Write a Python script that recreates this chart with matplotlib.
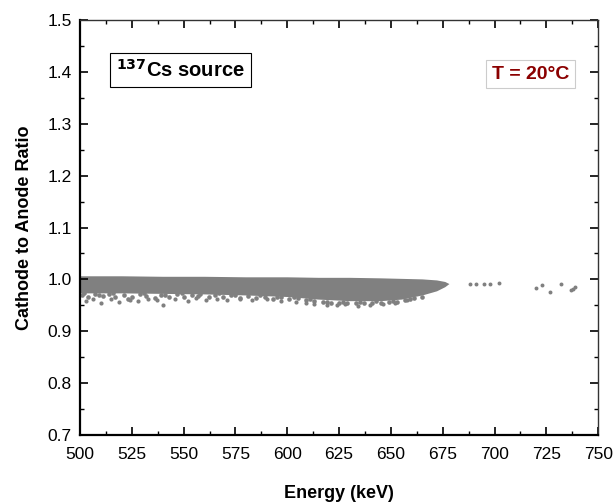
import matplotlib
matplotlib.use("Agg")
import matplotlib.pyplot as plt
from matplotlib.ticker import MultipleLocator

plt.rcParams["font.family"] = ["Liberation Sans", "DejaVu Sans"]

# dense band envelope (energy in keV, ratio)
band_e = [500, 520, 540, 560, 580, 600, 615, 630, 645, 655, 665, 672, 676, 678]
band_top = [1.007, 1.007, 1.006, 1.006, 1.005, 1.005, 1.004, 1.004, 1.003, 1.002, 1.001, 0.999, 0.996, 0.992]
band_low = [0.974, 0.974, 0.973, 0.972, 0.970, 0.967, 0.962, 0.959, 0.959, 0.962, 0.970, 0.978, 0.986, 0.992]

# scattered points along the lower edge of the band
edge_e = [501, 504, 507, 511, 514, 517, 521, 525, 529, 532, 536, 539, 543, 547,
          550, 554, 558, 562, 565, 569, 573, 577, 581, 585, 589, 593, 597, 601,
          605, 609, 613, 617, 621, 625, 629, 633, 637, 641, 645, 649, 653, 657,
          661, 665,
          502, 509, 516, 523, 531, 541, 549, 557, 567, 575, 587, 595, 603, 611,
          619, 627, 635, 643, 651, 659]
edge_r = [0.970, 0.966, 0.971, 0.968, 0.972, 0.967, 0.970, 0.966, 0.971, 0.968,
          0.965, 0.970, 0.967, 0.971, 0.966, 0.969, 0.972, 0.966, 0.970, 0.967,
          0.969, 0.965, 0.968, 0.964, 0.967, 0.963, 0.966, 0.962, 0.965, 0.960,
          0.958, 0.956, 0.955, 0.955, 0.954, 0.955, 0.954, 0.955, 0.955, 0.956,
          0.957, 0.960, 0.964, 0.967,
          0.973, 0.969, 0.974, 0.963, 0.973, 0.969, 0.974, 0.968, 0.973, 0.970,
          0.969, 0.966, 0.966, 0.962, 0.957, 0.957, 0.957, 0.958, 0.958, 0.963]

# scattered points well below the band
low_e = [503, 506, 510, 515, 519, 524, 528, 533, 537, 540, 546, 552, 556, 561,
         566, 571, 577, 583, 590, 597, 604, 609, 613, 619, 624, 628, 634, 640,
         646, 652, 658]
low_r = [0.958, 0.963, 0.955, 0.962, 0.957, 0.961, 0.958, 0.963, 0.960, 0.951,
         0.962, 0.959, 0.965, 0.960, 0.963, 0.961, 0.963, 0.960, 0.962, 0.958,
         0.957, 0.955, 0.953, 0.951, 0.950, 0.952, 0.949, 0.951, 0.952, 0.955,
         0.960]

# isolated points above 680 keV
iso_e = [688, 691, 695, 698, 702, 720, 723, 727, 732, 737, 738, 739]
iso_r = [0.992, 0.992, 0.992, 0.992, 0.993, 0.983, 0.990, 0.975, 0.992, 0.979, 0.981, 0.986]

grey = "#808080"

fig = plt.figure(figsize=(6.16, 5.04), dpi=100)
ax = fig.add_axes([0.130, 0.137, 0.841, 0.823])

ax.fill_between(band_e, band_low, band_top, color=grey, lw=0)
ax.scatter(edge_e, edge_r, s=11, color=grey, lw=0)
ax.scatter(low_e, low_r, s=9, color=grey, lw=0)
ax.scatter(iso_e, iso_r, s=8, color=grey, lw=0)

ax.set_xlim(500, 750)
ax.set_ylim(0.7, 1.5)
ax.xaxis.set_major_locator(MultipleLocator(25))
ax.xaxis.set_minor_locator(MultipleLocator(12.5))
ax.yaxis.set_major_locator(MultipleLocator(0.1))
ax.yaxis.set_minor_locator(MultipleLocator(0.05))
ax.yaxis.set_major_formatter(plt.FormatStrFormatter("%.1f"))
ax.tick_params(which="both", direction="in", top=True, right=True, labelsize=12.5)
ax.tick_params(which="major", length=6, width=1.2)
ax.tick_params(which="minor", length=3, width=1.0)
ax.tick_params(axis="x", pad=9)
ax.tick_params(axis="y", pad=6)
for side in ["left", "bottom"]:
    ax.spines[side].set_linewidth(1.6)
for side in ["top", "right"]:
    ax.spines[side].set_linewidth(1.0)
    ax.spines[side].set_color("#333333")

ax.set_xlabel("Energy (keV)", fontsize=13, fontweight="bold", labelpad=16)
ax.set_ylabel("Cathode to Anode Ratio", fontsize=13, fontweight="bold", labelpad=10)

ax.text(0.07, 0.880, r"$^{\mathbf{137}}$Cs source", transform=ax.transAxes,
        fontsize=14.5, fontweight="bold", va="center", ha="left",
        bbox=dict(boxstyle="square,pad=0.3", fc="white", ec="black", lw=0.8))
ax.text(0.945, 0.870, "T = 20°C", transform=ax.transAxes, color="#8b0000",
        fontsize=14, fontweight="bold", va="center", ha="right",
        bbox=dict(boxstyle="square,pad=0.3", fc="white", ec="#cccccc", lw=0.8))

fig.savefig("out.png", dpi=100)
